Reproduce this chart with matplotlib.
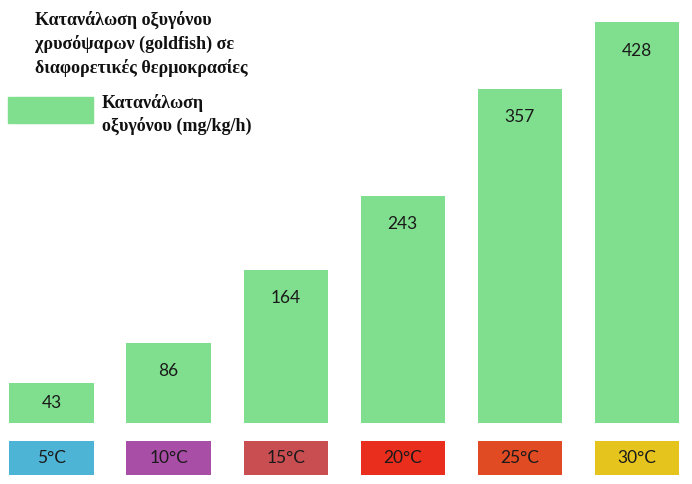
import matplotlib.pyplot as plt
from matplotlib.patches import Rectangle

# data
temps = ['5°C', '10°C', '15°C', '20°C', '25°C', '30°C']
oxygen = [43, 86, 164, 243, 357, 428]
temp_colors = ['#4db4d6', '#a84ea6', '#c84e52', '#ea2e1e', '#e04b24', '#e6c41e']
bar_color = '#80df8e'

title = 'Κατανάλωση οξυγόνου\nχρυσόψαρων (goldfish) σε\nδιαφορετικές θερμοκρασίες'
legend_label = 'Κατανάλωση\nοξυγόνου (mg/kg/h)'

fig = plt.figure(figsize=(6.92, 4.84), dpi=100)
ax = fig.add_axes([0, 0, 1, 1])
ax.axis('off')

x = list(range(len(temps)))
ax.bar(x, oxygen, width=0.72, color=bar_color, edgecolor='none')

# temperature boxes under the bars
ax.bar(x, [36] * len(x), bottom=-55, width=0.72, color=temp_colors, edgecolor='none')

for xi, val, t in zip(x, oxygen, temps):
    ypos = val - 30 if val > 80 else val / 2
    ax.text(xi, ypos, str(val), ha='center', va='center', fontsize=12.5,
            family='Lato', color='#1a1a1a')
    ax.text(xi, -37, t, ha='center', va='center', fontsize=12.5,
            family='Lato', color='#1a1a1a')

ax.set_xlim(-0.44, 5.47)
ax.set_ylim(-65, 452)

# title and legend
fig.text(0.05, 0.978, title, ha='left', va='top', fontsize=13, fontweight='bold',
         family='Liberation Serif', linespacing=1.42, color='#111111')
fig.patches.append(Rectangle((8 / 692, 1 - 123 / 484), 85 / 692, 26 / 484,
                             transform=fig.transFigure, color=bar_color))
fig.text(102 / 692, 1 - 94 / 484, legend_label, ha='left', va='top', fontsize=13,
         fontweight='bold', family='Liberation Serif', linespacing=1.35, color='#111111')

plt.savefig('out.png', dpi=100)
